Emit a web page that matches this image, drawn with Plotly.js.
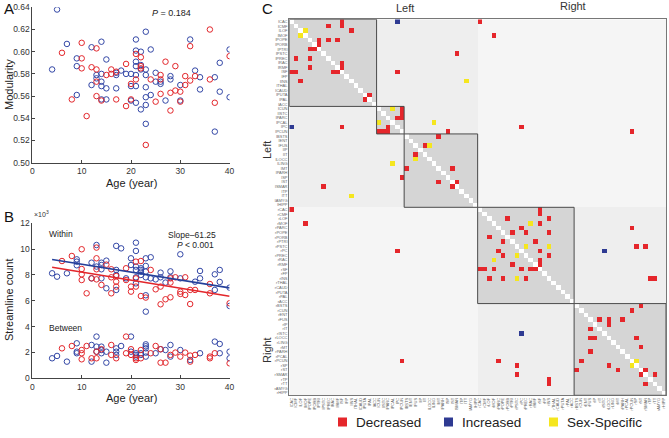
<!DOCTYPE html>
<html>
<head>
<meta charset="utf-8">
<script src="https://cdn.plot.ly/plotly-3.0.1.min.js"></script>
<style>
  html, body { margin: 0; padding: 0; background: #fff; }
  #chart { width: 669px; height: 438px; }
</style>
</head>
<body>
<div id="chart"></div>
<script>
// ---- panel A: modularity vs age ----
const ageBlueA = [5,4,7,9,9,9,12,12,13,13,14,14,14,14,14,15,15,15,17,17,17,18,19,20,20,20,21,21,21,21,21,21,21,22,22,22,22,23,23,23,23,23,23,23,24,24,25,25,26,26,27,28,28,30,30,32,33,34,34,37,37,38,38,40,40];
const modBlueA = [0.638,0.584,0.607,0.594,0.587,0.561,0.604,0.570,0.579,0.576,0.609,0.580,0.573,0.569,0.557,0.593,0.567,0.557,0.579,0.567,0.581,0.583,0.580,0.580,0.569,0.556,0.611,0.601,0.591,0.587,0.579,0.569,0.554,0.600,0.588,0.584,0.548,0.618,0.584,0.579,0.568,0.559,0.552,0.535,0.602,0.561,0.581,0.573,0.573,0.571,0.556,0.578,0.575,0.556,0.570,0.611,0.583,0.577,0.566,0.577,0.528,0.590,0.564,0.602,0.559];
const ageRedA = [6,8,10,10,10,11,12,13,13,13,13,14,15,16,16,17,17,19,19,20,20,21,21,22,22,22,23,24,25,26,26,26,27,28,28,29,29,30,30,31,31,32,32,33,36,36,37,40];
const modRedA = [0.599,0.557,0.608,0.594,0.585,0.542,0.586,0.603,0.584,0.573,0.560,0.556,0.579,0.584,0.580,0.582,0.557,0.589,0.551,0.571,0.557,0.598,0.575,0.595,0.587,0.585,0.516,0.575,0.555,0.579,0.575,0.562,0.591,0.563,0.547,0.587,0.565,0.564,0.555,0.578,0.570,0.605,0.574,0.578,0.620,0.575,0.554,0.596];

// ---- panel B: streamline counts (x10^3) ----
const ageWithinBlue = [4,5,7,9,9,9,12,12,13,13,14,14,14,14,15,15,17,17,17,17,18,19,20,20,21,21,21,21,21,21,22,22,22,22,23,23,23,23,23,23,24,24,25,26,26,27,28,28,30,30,33,34,34,37,37,38,38,40,40];
const withinBlue = [8.13,7.87,8.13,9.21,9.03,8.75,8.95,7.74,10.32,8.65,8.95,8.77,8.44,7.74,9.11,6.97,10.25,8.39,8.0,6.84,10.06,7.74,9.29,8.77,10.5,9.86,8.65,8.39,7.82,7.35,8.52,8.39,8.26,8.0,9.29,8.70,8.26,7.82,6.43,5.16,9.37,7.74,7.66,8.18,7.82,7.41,8.28,7.82,9.6,7.74,7.48,8.31,7.74,8.05,6.84,8.39,7.46,7.02,5.6];
const ageWithinRed = [6,8,10,10,10,10,11,12,13,13,13,13,14,15,16,16,16,17,17,17,19,19,20,20,21,21,21,22,22,23,24,25,26,26,27,28,28,28,29,30,30,31,31,32,32,33,36,36,40];
const withinRed = [9.08,9.47,9.99,8.46,8.05,7.61,6.58,7.74,10.12,9.29,8.44,7.66,7.23,8.8,8.44,7.82,6.58,7.92,7.48,7.10,8.52,7.61,7.10,6.71,9.03,7.74,7.10,9.08,6.37,6.25,8.39,6.89,7.10,5.73,6.12,7.74,7.41,6.27,7.82,6.71,6.53,7.82,6.45,6.84,5.75,6.84,7.30,6.58,5.81];
const ageBetweenBlue = [4,5,7,9,9,9,12,12,13,13,13,14,14,14,15,15,17,17,17,18,20,20,21,21,21,22,22,23,23,23,23,23,25,26,27,28,28,30,32,34,37,38,38,40,40];
const betweenBlue = [1.55,1.73,1.29,2.71,2.06,1.94,2.58,1.29,3.23,2.45,2.06,2.45,2.19,1.94,1.21,2.06,2.32,2.06,1.81,2.5,3.23,2.06,1.94,1.81,1.68,1.94,1.81,2.63,2.48,2.32,1.99,1.68,1.94,2.25,2.19,2.58,1.68,2.19,1.42,1.94,2.84,2.66,1.94,2.06,1.55];
const ageBetweenRed = [6,8,10,10,10,11,12,13,13,14,16,16,17,19,19,20,20,21,21,22,22,24,25,26,26,27,28,29,30,31,32,32,33,36,36,37,40];
const betweenRed = [2.32,2.5,2.19,1.94,1.47,2.5,1.55,2.06,1.55,2.25,2.58,1.81,1.55,3.23,1.94,2.25,1.81,1.55,1.42,2.19,1.55,1.94,2.5,2.25,1.21,1.21,1.81,1.99,1.68,1.99,1.76,1.29,1.81,1.68,1.55,1.94,1.16];
const fitAge = [4, 40];
const fitBlue = [9.2, 7.0];
const fitRed = [8.6, 6.35];

// ---- panel C: connectivity matrix ----
const regionsLeft = ['lCAC','lCMF','lLOF','lMOF','lPOPE','lPORB','lPTRI','lPSTC','lPREC','lRAC','lRMF','lSF','lFP','lINS','lTHAL','lCAUD','lPUTA','lPAL','lACC',
  'lCUN','lISTC','lPARC','lPCAL','lPC','lPCUN',
  'lBSTS','lENT','lFUS','lIP','lIT','lLOCC','lLING','lMT','lPARH','lSP','lST','lSMAR','lTP','lTT','lAMYG','lHIPP'];
const regionsRight = ['rCAC','rCMF','rLOF','rMOF','rPARC','rPOPE','rPORB','rPTRI','rPSTC','rPC','rPREC','rRAC','rRMF','rSF','rFP','rINS','rTHAL','rCAUD','rPUTA','rPAL','rACC',
  'rBSTS','rCUN','rENT','rFUS','rIP','rIT','rISTC','rLOCC','rLING','rMT','rPARH','rPCAL','rPCUN','rSP','rST','rSMAR','rTP','rTT','rAMYG','rHIPP'];
const moduleSizes = [19, 6, 16, 21, 20];
// pairs (row, col), upper triangle; mirrored below
const decreased = [[0,11],[1,11],[1,8],[2,13],[4,6],[5,6],[4,8],[4,10],[9,11],[10,11],[16,17],[0,41],[3,44],[7,36],[11,23],
  [19,24],[20,24],[21,24],[21,23],[23,50],[24,34],[24,74],[25,32],[27,29],[32,35],[35,36],
  [41,54],[42,54],[43,47],[43,56],[44,54],[45,50],[46,48],[46,51],[46,56],[48,53],[50,54],[51,56],[52,54],[53,54],
  [45,74],[49,75],[49,77],[56,78],[56,79],
  [62,76],[63,74],[65,67],[65,69],[66,69],[65,72],[69,75],[71,76],[76,77],[77,79]];
const increased = [[0,23],[50,68]];
const sexSpecific = [[2,3],[13,38],[19,22],[22,31],[27,30],[44,52],[49,51],[49,56],[74,75]];

const cellColors = ['#ffffff', '#f5f5f5', '#eeeeee', '#d5d5d5', '#e5262b', '#2e3a92', '#f5e61e'];

const regions = regionsLeft.concat(regionsRight);
const n = regions.length;
const moduleOf = [];
moduleSizes.forEach((s, m) => { for (let k = 0; k < s; k++) moduleOf.push(m); });
const half = regionsLeft.length;

const z = [];
for (let i = 0; i < n; i++) {
  const row = [];
  for (let j = 0; j < n; j++) {
    let c;
    if (moduleOf[i] === moduleOf[j]) c = (i === j) ? 0 : 3;
    else if ((i < half) === (j < half)) c = 2;
    else c = 1;
    row.push(c);
  }
  z.push(row);
}
function mark(list, code) {
  list.forEach(([a, b]) => { z[a][b] = code; z[b][a] = code; });
}
mark(decreased, 4);
mark(increased, 5);
mark(sexSpecific, 6);

const colorscale = [];
cellColors.forEach((c, k) => {
  colorscale.push([k / cellColors.length, c]);
  colorscale.push([(k + 1) / cellColors.length, c]);
});

const idx = regions.map((_, k) => k);

const W = 669, H = 438;
const px = x => x / W;
const py = y => 1 - y / H;

const FONT = 'Liberation Sans, Arial, sans-serif';
const BLUE = '#3347a6';
const RED = '#e3262b';

function circles(x, y, color, xa, ya) {
  return {
    x: x, y: y, xaxis: xa, yaxis: ya, type: 'scatter', mode: 'markers',
    marker: { symbol: 'circle-open', size: 5.5, color: color, line: { width: 1, color: color } },
    hoverinfo: 'skip'
  };
}

const traces = [
  circles(ageBlueA, modBlueA, BLUE, 'x', 'y'),
  circles(ageRedA, modRedA, RED, 'x', 'y'),
  circles(ageWithinBlue, withinBlue, BLUE, 'x2', 'y2'),
  circles(ageWithinRed, withinRed, RED, 'x2', 'y2'),
  circles(ageBetweenBlue, betweenBlue, BLUE, 'x2', 'y2'),
  circles(ageBetweenRed, betweenRed, RED, 'x2', 'y2'),
  { x: fitAge, y: fitBlue, xaxis: 'x2', yaxis: 'y2', type: 'scatter', mode: 'lines', line: { color: '#24409a', width: 1.6 } },
  { x: fitAge, y: fitRed, xaxis: 'x2', yaxis: 'y2', type: 'scatter', mode: 'lines', line: { color: '#e3262b', width: 1.6 } },
  {
    type: 'heatmap', z: z, x: idx, y: idx, xaxis: 'x3', yaxis: 'y3',
    colorscale: colorscale, zmin: -0.5, zmax: cellColors.length - 0.5,
    showscale: false, hoverinfo: 'skip', xgap: 0, ygap: 0
  }
];

const scatterX = {
  range: [0, 40], tickvals: [0, 10, 20, 30, 40], showgrid: false, zeroline: false,
  showline: true, linecolor: '#444', linewidth: 1, ticks: 'inside', ticklen: 3, tickcolor: '#444',
  tickfont: { size: 8.5, color: '#333' }
};
const scatterY = {
  showgrid: false, zeroline: false, showline: true, linecolor: '#444', linewidth: 1,
  ticks: 'inside', ticklen: 3, tickcolor: '#444', tickfont: { size: 8.5, color: '#333' }
};

const shapes = [];
let start = 0;
moduleSizes.forEach(s => {
  shapes.push({ type: 'rect', xref: 'x3', yref: 'y3', x0: start - 0.5, x1: start + s - 0.5, y0: start - 0.5, y1: start + s - 0.5,
    line: { color: '#4a4a4a', width: 1 }, fillcolor: 'rgba(0,0,0,0)' });
  start += s;
});
// legend keys
const legendItems = [
  { color: '#e5262b', label: 'Decreased', x: 338 },
  { color: '#2e3a92', label: 'Increased', x: 444 },
  { color: '#f5e61e', label: 'Sex-Specific', x: 549 }
];
legendItems.forEach(it => {
  shapes.push({ type: 'rect', xref: 'paper', yref: 'paper', x0: px(it.x), x1: px(it.x + 9), y0: py(426.5), y1: py(417.5),
    line: { width: 0 }, fillcolor: it.color });
});

function ann(text, x, y, opts) {
  return Object.assign({ text: text, xref: 'paper', yref: 'paper', x: px(x), y: py(y), showarrow: false,
    font: { size: 11, color: '#222', family: FONT }, xanchor: 'center', yanchor: 'middle' }, opts || {});
}

const annotations = [
  ann('A', 2, 9, { xanchor: 'left', font: { size: 15, color: '#111', family: FONT } }),
  ann('<i>P</i> = 0.184', 171, 13, { font: { size: 9, color: '#222', family: FONT } }),
  ann('Modularity', 9, 85, { textangle: -90, font: { size: 11, color: '#222', family: FONT } }),
  ann('Age (year)', 131, 183, { font: { size: 11, color: '#222', family: FONT } }),
  ann('B', 2, 216, { xanchor: 'left', font: { size: 15, color: '#111', family: FONT } }),
  ann('×10<sup>3</sup>', 32, 214, { xanchor: 'left', font: { size: 7, color: '#333', family: FONT } }),
  ann('Within', 47, 234, { xanchor: 'left', font: { size: 8.5, color: '#222', family: FONT } }),
  ann('Slope–61.25', 192, 235, { font: { size: 8.5, color: '#222', family: FONT } }),
  ann('<i>P</i> < 0.001', 195, 245, { font: { size: 8.5, color: '#222', family: FONT } }),
  ann('Between', 47, 328, { xanchor: 'left', font: { size: 8.5, color: '#222', family: FONT } }),
  ann('Streamline count', 9, 300, { textangle: -90, font: { size: 11, color: '#222', family: FONT } }),
  ann('Age (year)', 131, 398, { font: { size: 11, color: '#222', family: FONT } }),
  ann('C', 260, 8, { xanchor: 'left', font: { size: 15, color: '#111', family: FONT } }),
  ann('Left', 405, 8, { font: { size: 11, color: '#333', family: FONT } }),
  ann('Right', 573, 6, { font: { size: 11, color: '#333', family: FONT } }),
  ann('Left', 267, 150, { textangle: -90, font: { size: 11, color: '#333', family: FONT } }),
  ann('Right', 267, 350, { textangle: -90, font: { size: 11, color: '#333', family: FONT } })
];
legendItems.forEach(it => {
  annotations.push(ann(it.label, it.x + 16, 422, { xanchor: 'left', font: { size: 13.5, color: '#222', family: FONT } }));
});

const layout = {
  width: W, height: H,
  margin: { l: 0, r: 0, t: 0, b: 0 },
  paper_bgcolor: '#fff', plot_bgcolor: 'rgba(0,0,0,0)',
  showlegend: false,
  font: { family: FONT, color: '#333' },
  xaxis: Object.assign({}, scatterX, { domain: [px(32.4), px(229.6)], anchor: 'y' }),
  yaxis: Object.assign({}, scatterY, { domain: [py(162.7), py(7.3)], anchor: 'x', range: [0.5, 0.64], dtick: 0.02, tick0: 0.5, tickformat: '.2f' }),
  xaxis2: Object.assign({}, scatterX, { domain: [px(32.4), px(229.6)], anchor: 'y2' }),
  yaxis2: Object.assign({}, scatterY, { domain: [py(378.3), py(223.3)], anchor: 'x2', range: [0, 12], dtick: 2, tick0: 0 }),
  xaxis3: {
    domain: [px(289.3), px(666)], anchor: 'y3', range: [-0.5, n - 0.5],
    tickmode: 'array', tickvals: idx, ticktext: regions, tickangle: -90,
    tickfont: { size: 4, color: '#666' }, ticks: '', showgrid: false, zeroline: false,
    showline: true, mirror: true, linecolor: '#777', linewidth: 1
  },
  yaxis3: {
    domain: [py(395.3), py(19.3)], anchor: 'x3', range: [n - 0.5, -0.5],
    tickmode: 'array', tickvals: idx, ticktext: regions,
    tickfont: { size: 4, color: '#666' }, ticks: '', showgrid: false, zeroline: false,
    showline: true, mirror: true, linecolor: '#777', linewidth: 1
  },
  shapes: shapes,
  annotations: annotations
};

Plotly.newPlot('chart', traces, layout, { staticPlot: true, displayModeBar: false });
</script>
</body>
</html>
